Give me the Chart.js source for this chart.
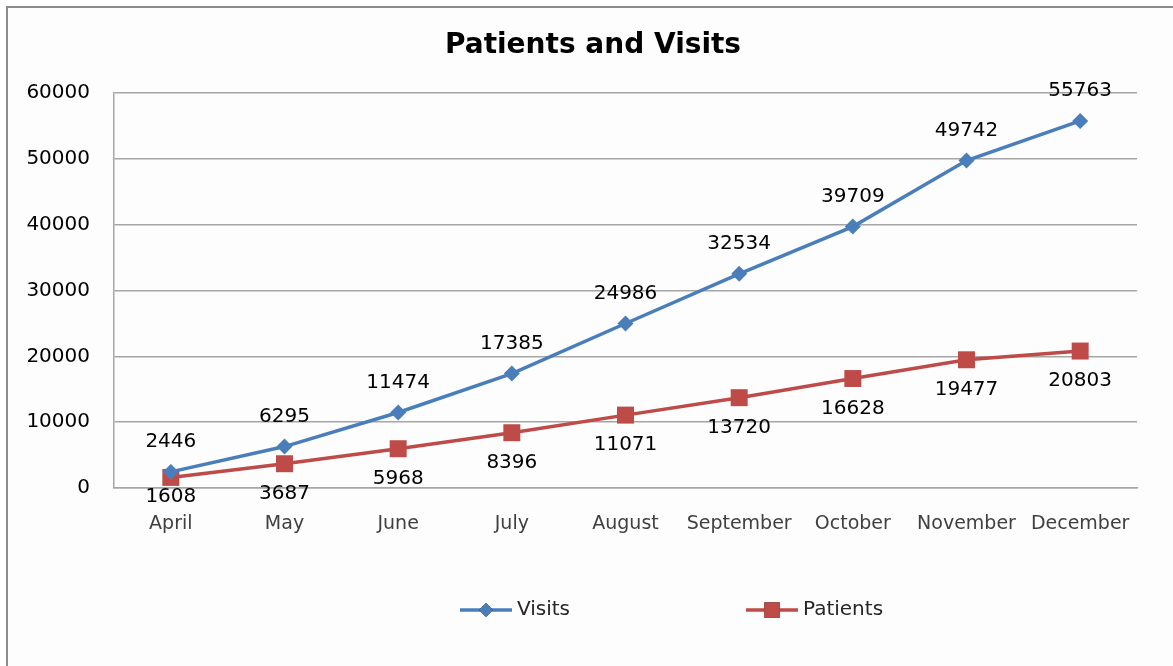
<!DOCTYPE html>
<html>
<head>
<meta charset="utf-8">
<title>Patients and Visits</title>
<script src="https://cdn.jsdelivr.net/npm/chart.js@4.4.1/dist/chart.umd.min.js"></script>
<style>
  html, body { margin: 0; padding: 0; background: #fff; }
  #frame {
    position: absolute; left: 6px; top: 6px; width: 1200px; height: 700px;
    border-left: 2px solid #8c8c8c; border-top: 2px solid #8c8c8c;
    background: #fdfdfd;
  }
  #wrap { position: absolute; left: 0; top: 0; width: 1173px; height: 666px; }
</style>
</head>
<body>
<div id="frame"></div>
<div id="wrap"><canvas id="lineChart" width="1173" height="666"></canvas></div>
<script>
const months   = ["April", "May", "June", "July", "August", "September", "October", "November", "December"];
const visits   = [2446, 6295, 11474, 17385, 24986, 32534, 39709, 49742, 55763];
const patients = [1608, 3687, 5968, 8396, 11071, 13720, 16628, 19477, 20803];
const yTicks   = [0, 10000, 20000, 30000, 40000, 50000, 60000];

const BLUE = "#4a7ebb";
const RED  = "#be4b48";
const GRID = "#a6a6a6";
const NUM_FONT = "20px 'DejaVu Sans'";

// ── Title, value labels and the Excel-style legend ─────────────
const extras = {
  id: "extras",
  afterDatasetsDraw(chart) {
    const { ctx, chartArea } = chart;
    ctx.save();

    // title
    ctx.fillStyle = "#000";
    ctx.font = "bold 28px 'DejaVu Sans'";
    ctx.textAlign = "center";
    ctx.textBaseline = "middle";
    ctx.fillText("Patients and Visits", 593, 46);

    // value labels: Visits above the point, Patients below
    ctx.font = NUM_FONT;
    chart.data.datasets.forEach((ds, i) => {
      const meta = chart.getDatasetMeta(i);
      meta.data.forEach((pt, j) => {
        let y = i === 0 ? pt.y - 30 : pt.y + 30;
        if (i === 1) y = Math.min(y, chartArea.bottom + 9);
        ctx.fillText(String(ds.data[j]), pt.x, y);
      });
    });

    // legend
    const items = [
      { x: 460, ds: chart.data.datasets[0] },
      { x: 746, ds: chart.data.datasets[1] },
    ];
    const ly = 610;
    items.forEach(({ x, ds }) => {
      ctx.strokeStyle = ds.borderColor;
      ctx.lineWidth = 3.5;
      ctx.beginPath();
      ctx.moveTo(x, ly);
      ctx.lineTo(x + 52, ly);
      ctx.stroke();
      Chart.helpers.drawPoint(ctx, {
        pointStyle: ds.pointStyle,
        radius: ds.pointStyle === "rect" ? 11 : 7,
        borderWidth: 0,
        rotation: 0,
      }, x + 26, ly);
      ctx.fillStyle = ds.borderColor;
      ctx.fill();
      ctx.fillStyle = "#262626";
      ctx.font = "20px 'DejaVu Sans'";
      ctx.textAlign = "left";
      ctx.fillText(ds.label, x + 57, ly);
    });

    ctx.restore();
  },
};

new Chart(document.getElementById("lineChart").getContext("2d"), {
  type: "line",
  data: {
    labels: months,
    datasets: [
      {
        label: "Visits",
        data: visits,
        borderColor: BLUE,
        backgroundColor: BLUE,
        borderWidth: 3.5,
        pointStyle: "rectRot",
        pointRadius: 8,
        pointBorderWidth: 0,
        tension: 0,
      },
      {
        label: "Patients",
        data: patients,
        borderColor: RED,
        backgroundColor: RED,
        borderWidth: 3.5,
        pointStyle: "rect",
        pointRadius: 12,
        pointBorderWidth: 0,
        tension: 0,
      },
    ],
  },
  options: {
    responsive: false,
    animation: false,
    layout: { padding: { top: 93, right: 36, left: 0, bottom: 0 } },
    plugins: {
      legend: { display: false },
      title: { display: false },
      tooltip: { enabled: false },
    },
    scales: {
      x: {
        offset: true,
        grid: { display: false },
        border: { color: GRID, width: 1.5 },
        ticks: {
          color: "#404040",
          font: { family: "DejaVu Sans", size: 19 },
          padding: 17,
          maxRotation: 0,
          autoSkip: false,
        },
        afterFit: s => { s.height = 178; },
      },
      y: {
        min: yTicks[0],
        max: yTicks[yTicks.length - 1],
        afterBuildTicks: s => { s.ticks = yTicks.map(v => ({ value: v })); },
        grid: { color: GRID, lineWidth: 1.5, drawTicks: false },
        border: { color: GRID, width: 1.5 },
        ticks: {
          color: "#000",
          font: { family: "DejaVu Sans", size: 20 },
          padding: 24,
          callback: v => v,
        },
        afterFit: s => { s.width = 114; },
      },
    },
  },
  plugins: [extras],
});
</script>
</body>
</html>
